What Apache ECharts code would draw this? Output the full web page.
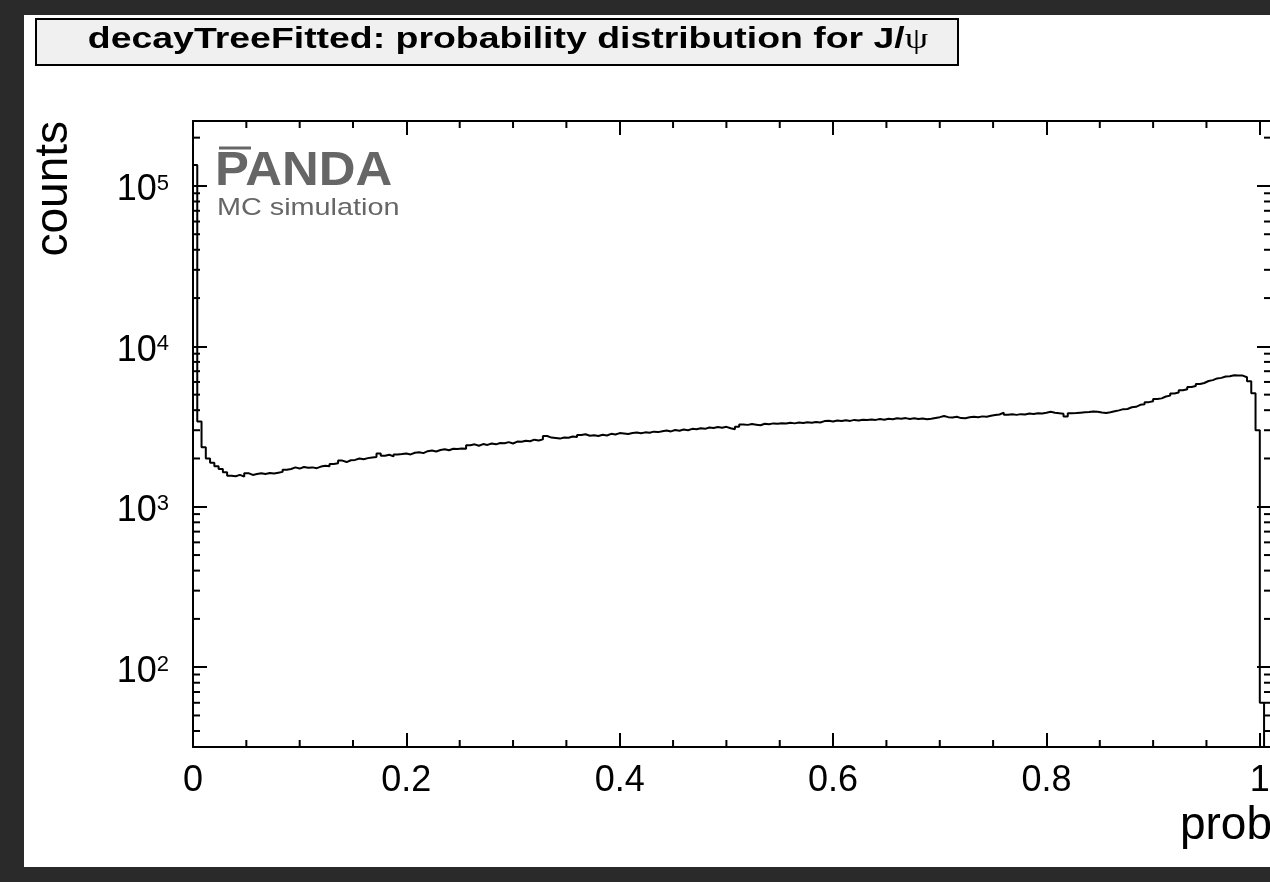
<!DOCTYPE html>
<html><head><meta charset="utf-8">
<script src="https://cdn.jsdelivr.net/npm/echarts@6/dist/echarts.min.js"></script>
<style>
html,body{margin:0;padding:0;background:#2a2a2a;width:1270px;height:882px;overflow:hidden;}
#panel{position:absolute;left:24px;top:15px;width:1246px;height:852px;background:#fff;}
#c{position:absolute;left:0;top:0;width:1270px;height:882px;}
</style>
</head><body><div id="panel"></div><div id="c"></div>
<script>
// ---- data ----
const titleMain = 'decayTreeFitted: probability distribution for J/';
const titlePsi = 'ψ';
const xTitle = 'prob';
const yTitle = 'counts';
const xTickLabels = ['0', '0.2', '0.4', '0.6', '0.8', '1'];
const xMinorTicks = [0.05,0.1,0.15,0.25,0.3,0.35,0.45,0.5,0.55,0.65,0.7,0.75,0.85,0.9,0.95];
const yMinorTicks = [40,50,60,70,80,90,200,300,400,500,600,700,800,900,
  2000,3000,4000,5000,6000,7000,8000,9000,20000,30000,40000,50000,60000,70000,80000,90000,200000];
const X_MIN = 0, X_MAX = 1.0105, Y_MIN = 31.8, Y_MAX = 254000;
const BIN_WIDTH = 0.004;
// counts per bin, bin i covers [i*BIN_WIDTH, (i+1)*BIN_WIDTH]
const counts = [
135000,3400,2350,2000,1880,1790,1720,1640,1560,1550,
1580,1540,1620,1580,1600,1620,1600,1625,1610,1630,
1650,1700,1720,1760,1730,1770,1750,1760,1740,1780,
1800,1790,1850,1870,1940,1900,1950,1960,2000,1980,
2010,2030,2040,2150,2080,2110,2060,2120,2130,2150,
2120,2170,2190,2160,2220,2240,2210,2260,2280,2250,
2300,2290,2310,2300,2420,2450,2400,2460,2430,2480,
2450,2500,2490,2530,2480,2550,2540,2580,2560,2620,
2590,2630,2760,2700,2680,2660,2700,2690,2740,2720,
2800,2830,2770,2790,2760,2810,2780,2850,2820,2880,
2860,2840,2880,2900,2870,2910,2890,2940,2920,2960,
2990,2950,3010,2980,3030,3000,3060,3040,3090,3060,
3120,3100,3140,3110,3150,3090,3040,3150,3260,3240,
3280,3250,3220,3290,3270,3310,3290,3320,3300,3340,
3310,3350,3330,3360,3340,3380,3350,3420,3440,3400,
3450,3420,3460,3430,3480,3450,3490,3470,3500,3480,
3520,3490,3540,3510,3560,3540,3570,3530,3560,3520,
3550,3510,3540,3580,3620,3680,3620,3600,3640,3570,
3560,3610,3640,3620,3660,3640,3690,3730,3760,3860,
3750,3770,3740,3780,3760,3810,3790,3830,3820,3860,
3910,3860,3830,3800,3650,3830,3840,3860,3880,3900,
3930,3910,3870,3840,3880,3940,3990,4060,4070,4170,
4200,4320,4360,4490,4550,4690,4740,4870,4930,5090,
5150,5320,5400,5580,5660,5830,5910,6080,6160,6310,
6360,6480,6510,6600,6580,6570,6420,6050,5100,3000,
60
];

// ---- build ----
const histPoints = counts.map((c, i) => [i * BIN_WIDTH, c]);
histPoints.push([counts.length * BIN_WIDTH, counts[counts.length - 1]]);
histPoints.push([counts.length * BIN_WIDTH, Y_MIN / 10]);

const FONT = "'Liberation Sans', Arial, Helvetica, sans-serif";
const BLACK = '#000';
const GREY = '#666666';

function xLabel(v) {
  const r = Math.round(v * 5);
  if (Math.abs(v * 5 - r) > 1e-6 || r < 0 || r >= xTickLabels.length) return '';
  return xTickLabels[r];
}
function yLabel(v) {
  const l = Math.log10(v);
  const n = Math.round(l);
  if (Math.abs(l - n) > 1e-6) return '';
  return '{b|10}{s|' + n + '}';
}

const chart = echarts.init(document.getElementById('c'), null, {renderer: 'canvas'});
const axisLineStyle = {color: BLACK, width: 2};
const tickStyle = {color: BLACK, width: 2};
const option = {
  animation: false,
  backgroundColor: 'transparent',
  grid: {left: 193, top: 121, width: 1078, height: 626, containLabel: false, outerBoundsMode: 'none'},
  xAxis: [{
    type: 'value', position: 'bottom', min: X_MIN, max: X_MAX, interval: 0.2,
    axisLine: {show: true, onZero: false, lineStyle: axisLineStyle},
    axisTick: {show: true, inside: true, length: 14, lineStyle: tickStyle},
    axisLabel: {show: true, formatter: xLabel, margin: 16, color: BLACK, fontSize: 36, fontFamily: FONT, showMaxLabel: false, hideOverlap: false},
    splitLine: {show: false}
  }, {
    type: 'value', position: 'top', min: X_MIN, max: X_MAX, interval: 0.2,
    axisLine: {show: true, onZero: false, lineStyle: axisLineStyle},
    axisTick: {show: true, inside: true, length: 14, lineStyle: tickStyle},
    axisLabel: {show: false}, splitLine: {show: false}
  }],
  yAxis: [{
    type: 'log', logBase: 10, position: 'left', min: Y_MIN, max: Y_MAX,
    axisLine: {show: true, onZero: false, lineStyle: axisLineStyle},
    axisTick: {show: true, inside: true, length: 14, lineStyle: tickStyle},
    axisLabel: {
      show: true, formatter: yLabel, margin: 24, showMinLabel: false, showMaxLabel: false,
      padding: [9, 0, 0, 0],
      rich: {
        b: {fontSize: 36, lineHeight: 36, fontFamily: FONT, color: BLACK},
        s: {fontSize: 22, lineHeight: 15, fontFamily: FONT, color: BLACK, verticalAlign: 'top'}
      }
    },
    splitLine: {show: false}
  }, {
    type: 'log', logBase: 10, position: 'right', min: Y_MIN, max: Y_MAX,
    axisLine: {show: true, onZero: false, lineStyle: axisLineStyle},
    axisTick: {show: true, inside: true, length: 14, lineStyle: tickStyle},
    axisLabel: {show: false}, splitLine: {show: false}
  }],
  series: [{
    name: 'hist', type: 'line', xAxisIndex: 0, yAxisIndex: 0,
    step: 'end', data: histPoints, showSymbol: false, symbol: 'none',
    lineStyle: {color: BLACK, width: 2}, clip: true, z: 3
  }, {
    name: 'yMinor', type: 'custom', xAxisIndex: 0, yAxisIndex: 0, clip: false, silent: true,
    data: yMinorTicks.map(v => [X_MIN, v]),
    renderItem: function (params, api) {
      const v = api.value(1);
      const p = api.coord([X_MIN, v]);
      const q = api.coord([X_MAX, v]);
      return {type: 'group', children: [
        {type: 'line', shape: {x1: p[0], y1: p[1], x2: p[0] + 7, y2: p[1]}, style: {stroke: BLACK, lineWidth: 2}},
        {type: 'line', shape: {x1: q[0] - 7, y1: q[1], x2: q[0], y2: q[1]}, style: {stroke: BLACK, lineWidth: 2}}
      ]};
    }
  }, {
    name: 'xMinor', type: 'custom', xAxisIndex: 0, yAxisIndex: 0, clip: false, silent: true,
    data: xMinorTicks.map(v => [v, Y_MIN]),
    renderItem: function (params, api) {
      const v = api.value(0);
      const p = api.coord([v, Y_MIN]);
      const q = api.coord([v, Y_MAX]);
      return {type: 'group', children: [
        {type: 'line', shape: {x1: p[0], y1: p[1], x2: p[0], y2: p[1] - 7}, style: {stroke: BLACK, lineWidth: 2}},
        {type: 'line', shape: {x1: q[0], y1: q[1], x2: q[0], y2: q[1] + 7}, style: {stroke: BLACK, lineWidth: 2}}
      ]};
    }
  }],
  graphic: [
    {type: 'rect', shape: {x: 36, y: 19, width: 922, height: 46}, style: {fill: '#f0f0f0', stroke: BLACK, lineWidth: 2}, z: 10},
    {type: 'text', x: 508, y: 40, scaleX: 1.29, z: 11, style: {
      text: '{t|' + titleMain + '}{p|' + titlePsi + '}', align: 'center', verticalAlign: 'middle',
      rich: {
        t: {fontSize: 29, fontWeight: 'bold', fontFamily: FONT, fill: BLACK},
        p: {fontSize: 29, fontWeight: 'normal', fontFamily: "'Liberation Serif', 'DejaVu Serif', serif", fill: BLACK}
      }
    }},
    {type: 'text', x: 215, y: 172, scaleX: 1.06, z: 11, style: {text: 'PANDA', font: "bold 48px " + FONT, fill: GREY, align: 'left', verticalAlign: 'middle'}},
    {type: 'line', z: 11, shape: {x1: 219, y1: 148, x2: 251, y2: 148}, style: {stroke: GREY, lineWidth: 3}},
    {type: 'text', x: 217, y: 208, scaleX: 1.2, z: 11, style: {text: 'MC simulation', font: "24px " + FONT, fill: GREY, align: 'left', verticalAlign: 'middle'}},
    {type: 'text', x: 1272, y: 826, z: 11, style: {text: xTitle, font: "46px " + FONT, fill: BLACK, align: 'right', verticalAlign: 'middle'}},
    {type: 'text', x: 54, y: 121, rotation: Math.PI / 2, z: 11, style: {text: yTitle, font: "46px " + FONT, fill: BLACK, align: 'right', verticalAlign: 'middle'}}
  ]
};
chart.setOption(option);
</script>
</body></html>
